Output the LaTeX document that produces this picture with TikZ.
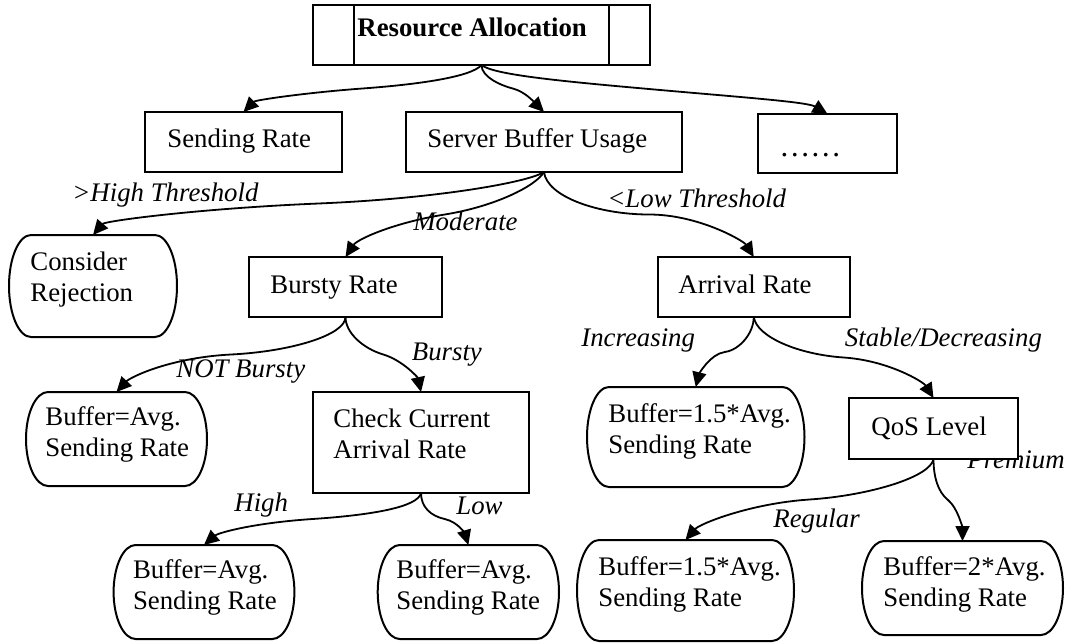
\documentclass[tikz,border=0pt]{standalone}
\usepackage{fontspec}
\setmainfont{Liberation Serif}
\usetikzlibrary{arrows.meta,calc}

% rectangular box given by its corners (x0,y0)-(x1,y1)
\newcommand\rectnode[5]{%
  \node[rectbox, minimum width={(#4-#2)*0.5pt}, minimum height={(#5-#3)*0.5pt}]
    (#1) at ({(#2+#4)/2},{(#3+#5)/2}) {};}
% rounded outcome box with elliptic ends
\newcommand\leafnode[5]{%
  \node[core, minimum width={(#4-#2)*0.5pt}, minimum height={(#5-#3)*0.5pt}]
    (#1) at ({(#2+#4)/2},{(#3+#5)/2}) {};
  \draw[leafline] ({#2+22},#3) -- ({#4-22},#3)
    arc[start angle=90, end angle=-90, x radius=11pt, y radius={(#5-#3)*0.25pt}]
    -- ({#2+22},#5)
    arc[start angle=270, end angle=90, x radius=11pt, y radius={(#5-#3)*0.25pt}]
    -- cycle;}
% text inside a box, first baseline at (x,y)
\newcommand\boxtext[4]{\node[txt] (#1) at (#2,#3) {\begin{tabular}[t]{@{}l@{}}#4\end{tabular}};}
% italic branch label, baseline at (x,y)
\newcommand\edgelabel[4]{\node[lbl] (#1) at (#2,#3) {#4};}

\tikzset{
  core/.style={rectangle, inner sep=0pt, outer sep=0pt},
  rectbox/.style={core, draw, line width=1pt, fill=white},
  leafline/.style={draw, line width=1pt, fill=white},
  txt/.style={inner sep=0pt, anchor=base west, font=\fontsize{13.4}{15.6}\selectfont},
  lbl/.style={txt, font=\fontsize{13.4}{15.6}\selectfont\itshape},
  conn/.style={line width=0.9pt, -{Triangle[length=7.5pt, width=7pt]}},
}

\begin{document}
\begin{tikzpicture}[x=0.5pt, y=-0.5pt]
\useasboundingbox (0,0) rectangle (1066,643);

% label partly hidden behind the QoS box
\edgelabel{l-prem}{967}{468}{Premium}

% boxes
\rectnode{ra}{313}{5}{650}{65}
\draw[line width=1pt] ($(ra.north west)+(41,0)$) -- ($(ra.south west)+(41,0)$);
\draw[line width=1pt] ($(ra.north east)+(-41,0)$) -- ($(ra.south east)+(-41,0)$);
\rectnode{sr}{145}{112}{342}{172}
\rectnode{sbu}{406}{112}{682}{172}
\rectnode{dots}{758}{114}{897}{173}
\leafnode{cr}{9}{235}{177}{337}
\rectnode{br}{249}{257}{442}{317}
\rectnode{ar}{657.5}{257}{850}{317}
\leafnode{nb}{26}{392}{207}{486}
\rectnode{ccar}{313}{392}{529}{493}
\leafnode{inc}{587}{387}{804.5}{487}
\rectnode{qos}{849}{398}{1018}{459}
\leafnode{high}{113.6}{545}{294.4}{639}
\leafnode{low}{377.7}{545}{559}{639}
\leafnode{reg}{577}{540}{794}{641}
\leafnode{bt}{862}{541}{1063}{635}

% connectors
\draw[conn] (ra.south) .. controls +(-10,12) and +(55,-4) .. ($(ra.south)!.5!(sr.north)$)
  .. controls +(-55,4) and +(12,-12) .. (sr.north);
\draw[conn] (ra.south) .. controls +(0,12) and +(-12,-3) .. ($(ra.south)!.5!(sbu.north)$)
  .. controls +(12,3) and +(-10,-10) .. (sbu.north);
\draw[conn] (ra.south) .. controls +(12,10) and +(-90,-8) .. ($(ra.south)!.5!(dots.north)$)
  .. controls +(90,8) and +(-20,-12) .. (dots.north);

\draw[conn] (sbu.south) .. controls +(-15,10) and +(120,-5) .. ($(sbu.south)!.5!(cr.north)$)
  .. controls +(-120,5) and +(12,-14) .. (cr.north);
\draw[conn] (sbu.south) .. controls +(-8,14) and +(50,-8) .. ($(sbu.south)!.5!(br.north)$)
  .. controls +(-50,8) and +(12,-18) .. (br.north);
\draw[conn] (sbu.south) .. controls +(3,25) and +(-50,0) .. ($(sbu.south)!.5!(ar.north)$)
  .. controls +(50,0) and +(-10,-16) .. (ar.north);

\draw[conn] (br.south) .. controls +(0,18) and +(60,-3) .. ($(br.south)!.5!(nb.north)$)
  .. controls +(-60,3) and +(14,-15) .. (nb.north);
\draw[conn] (br.south) .. controls +(0,16) and +(-20,-6) .. ($(br.south)!.5!(ccar.north)$)
  .. controls +(20,6) and +(-3,-14) .. (ccar.north);

\draw[conn] (ccar.south) .. controls +(-3,14) and +(60,-4) .. ($(ccar.south)!.5!(high.north)$)
  .. controls +(-60,4) and +(14,-12) .. (high.north);
\draw[conn] (ccar.south) .. controls +(0,14) and +(-14,-3) .. ($(ccar.south)!.5!(low.north)$)
  .. controls +(14,3) and +(-3,-10) .. (low.north);

\draw[conn] (ar.south) .. controls +(0,16) and +(15,-2) .. ($(ar.south)!.5!(inc.north)$)
  .. controls +(-15,2) and +(3,-12) .. (inc.north);
\draw[conn] (ar.south) .. controls +(3,20) and +(-45,-3) .. ($(ar.south)!.5!(qos.north)$)
  .. controls +(45,3) and +(-10,-16) .. (qos.north);

\draw[conn] (qos.south) .. controls +(-3,18) and +(60,-4) .. ($(qos.south)!.5!(reg.north)$)
  .. controls +(-60,4) and +(14,-16) .. (reg.north);
\draw[conn] (qos.south) .. controls +(0,18) and +(-10,-8) .. ($(qos.south)!.5!(bt.north)$)
  .. controls +(10,8) and +(0,-12) .. (bt.north);

% box texts
\boxtext{t-ra}{357}{36}{\bfseries Resource Allocation}
\boxtext{t-sr}{167}{147}{Sending Rate}
\boxtext{t-sbu}{427}{147}{Server Buffer Usage}
\node[txt, font=\fontsize{15.5}{18}\selectfont] (t-dots) at (779,156) {……};
\boxtext{t-cr}{30}{270}{Consider\\Rejection}
\boxtext{t-br}{270}{293}{Bursty Rate}
\boxtext{t-ar}{678}{293}{Arrival Rate}
\boxtext{t-nb}{45}{425}{Buffer=Avg.\\Sending Rate}
\boxtext{t-ccar}{333}{427}{Check Current\\Arrival Rate}
\boxtext{t-inc}{608}{422}{Buffer=1.5*Avg.\\Sending Rate}
\boxtext{t-qos}{871}{435}{QoS Level}
\boxtext{t-high}{132.6}{578}{Buffer=Avg.\\Sending Rate}
\boxtext{t-low}{396}{578}{Buffer=Avg.\\Sending Rate}
\boxtext{t-reg}{598}{575}{Buffer=1.5*Avg.\\Sending Rate}
\boxtext{t-bt}{883}{575}{Buffer=2*Avg.\\Sending Rate}

% branch labels
\edgelabel{l-high}{72}{201}{>High Threshold}
\edgelabel{l-mod}{413}{230}{Moderate}
\edgelabel{l-low}{607}{207}{<Low Threshold}
\edgelabel{l-nb}{176}{377}{NOT Bursty}
\edgelabel{l-b}{411.5}{360}{Bursty}
\edgelabel{l-inc}{581}{346}{Increasing}
\edgelabel{l-sd}{844.5}{346}{Stable/Decreasing}
\edgelabel{l-hi}{234}{511.7}{High}
\edgelabel{l-lo}{456}{514}{Low}
\edgelabel{l-reg}{773}{527}{Regular}
\end{tikzpicture}
\end{document}
